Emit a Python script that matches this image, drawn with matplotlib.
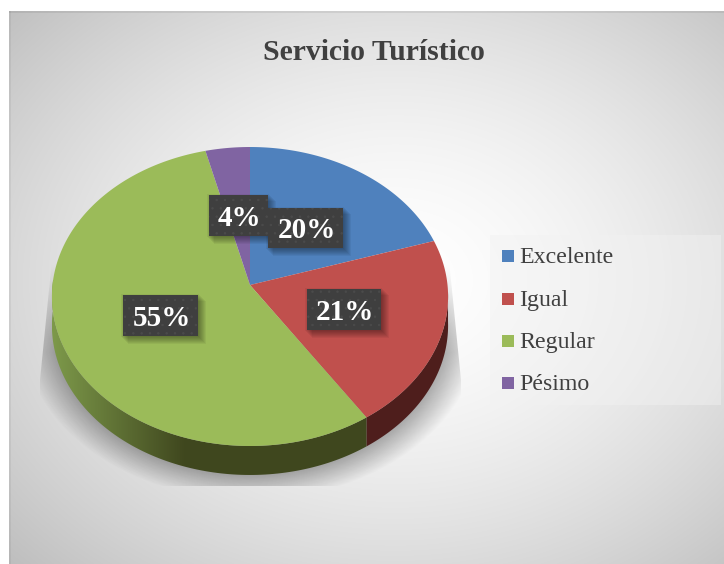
import numpy as np
import matplotlib
matplotlib.use("Agg")
import matplotlib.pyplot as plt
from matplotlib.patches import Polygon, Rectangle

categories = ["Excelente", "Igual", "Regular", "Pésimo"]
values = [20.1, 20.6, 55.4, 3.9]
colors = ["#4f81bd", "#c0504d", "#9bbb59", "#8064a2"]
label_boxes = [(268, 208, 75, 40), (307, 289, 74, 41), (123, 295, 75, 41), (209, 195, 59, 41)]

W, H = 724, 564
fig = plt.figure(figsize=(W / 100, H / 100), dpi=100)
ax = fig.add_axes([0, 0, 1, 1])
ax.set_xlim(0, W)
ax.set_ylim(H, 0)
ax.axis("off")

# chart background, radial grey fade
yy, xx = np.mgrid[0:H, 0:W]
d = np.sqrt(((xx - 395) / 362.0) ** 2 + ((yy - 280) / 282.0) ** 2)
bg = 1 - 0.24 * (d / 1.41) ** 1.6
bg_rgb = np.dstack([bg, bg, bg])
bg_rgb[:11, :] = 1
bg_rgb[:, :9] = 1
bg_rgb[11:13, 9:] *= 0.93
bg_rgb[11:, 9:11] *= 0.95
ax.imshow(bg_rgb, extent=(0, W, H, 0), aspect="auto", zorder=0)

# perspective pie
cx, cy = 250, 285
R, a, k = 197.5, 148.6, 0.0769
depth = 29


def project(theta):
    u, v = np.sin(theta), np.cos(theta)
    den = 1 + k * v
    return cx + R * u / den, cy - a * v / den


# soft shadow below the pie, cut off by a trapezoid and fading out upwards
dist = (np.sqrt(((xx - 250) / 198.0) ** 2 + ((yy - 325) / 150.0) ** 2) - 1) * 170
shadow = np.zeros((H, W, 4))
shadow[..., 3] = 0.30 * np.clip(1 - dist / 28, 0, 1) * np.clip((yy - 262) / 90.0, 0, 1)
im = ax.imshow(shadow, extent=(0, W, H, 0), aspect="auto", zorder=1)
trap = Polygon([(52, 260), (40, 380), (40, 486), (461, 486), (461, 380), (449, 260)],
               closed=True, fc="none", lw=0, transform=ax.transData)
ax.add_patch(trap)
im.set_clip_path(trap)

fracs = np.array(values) / sum(values)
edges = np.concatenate([[0], np.cumsum(fracs)]) * 2 * np.pi

# side wall of the pie, only the front part shows
for i, name in enumerate(categories):
    t0, t1 = edges[i], edges[i + 1]
    lo, hi = max(t0, np.pi / 2 + 0.05), min(t1, 3 * np.pi / 2 + 0.1)
    if hi <= lo:
        continue
    t = np.linspace(lo, hi, 120)
    x, y = project(t)
    pts = np.column_stack([np.r_[x, x[::-1]], np.r_[y, y[::-1] + depth]])
    if name == "Regular":
        clip = Polygon(pts, closed=True, fc="none", lw=0)
        ax.add_patch(clip)
        g = np.linspace(0, 1, 256)
        c0, c1 = np.array([0.49, 0.60, 0.29]), np.array([0.25, 0.28, 0.12])
        img = np.array([c0 * (1 - min(v / 0.42, 1)) + c1 * min(v / 0.42, 1) for v in g])[None, :, :]
        im = ax.imshow(img, extent=(52, 367, 490, 280), aspect="auto", zorder=3)
        im.set_clip_path(clip)
    else:
        ax.fill(pts[:, 0], pts[:, 1], color="#4e1e1c", lw=0, zorder=2)

# top face
for i, name in enumerate(categories):
    t = np.linspace(edges[i], edges[i + 1], 200)
    x, y = project(t)
    ax.fill(np.r_[cx, x], np.r_[cy, y], color=colors[i], lw=0, zorder=4)

# data labels
plt.rcParams["hatch.linewidth"] = 0.5
for i, v in enumerate(values):
    bx, by, bw, bh = label_boxes[i]
    for j in range(8):
        ax.add_patch(Rectangle((bx + j - 2, by + j - 1), bw + 3, bh + 2, fc="black", alpha=0.05, lw=0, zorder=5))
    ax.add_patch(Rectangle((bx, by), bw, bh, fc="#3f3f3f", lw=0, zorder=6))
    ax.add_patch(Rectangle((bx, by), bw, bh, fc="none", ec="#4b4b4b", hatch="..", lw=0, zorder=6))
    ax.text(bx + bw / 2 + 1, by + bh / 2 + 3, f"{v:.0f}%", color="white", family="Liberation Serif",
            weight="bold", fontsize=21, ha="center", va="center", zorder=7)

# legend
ax.add_patch(Rectangle((490, 235), 231, 170, fc="#f2f2f2", alpha=0.45, lw=0, zorder=4))
leg_y = [256, 299, 341, 383]
for i, name in enumerate(categories):
    ax.add_patch(Rectangle((502, leg_y[i] - 6), 12, 12, fc=colors[i], lw=0, zorder=5))
    ax.text(519, leg_y[i] + 7, name, color="#404040", family="Liberation Serif", fontsize=17.2,
            ha="left", va="baseline", zorder=5)

ax.text(373.5, 60, "Servicio Turístico", color="#404040", family="Liberation Serif", weight="bold",
        fontsize=21.4, ha="center", va="baseline", zorder=5)

fig.savefig("out.png", dpi=100)
